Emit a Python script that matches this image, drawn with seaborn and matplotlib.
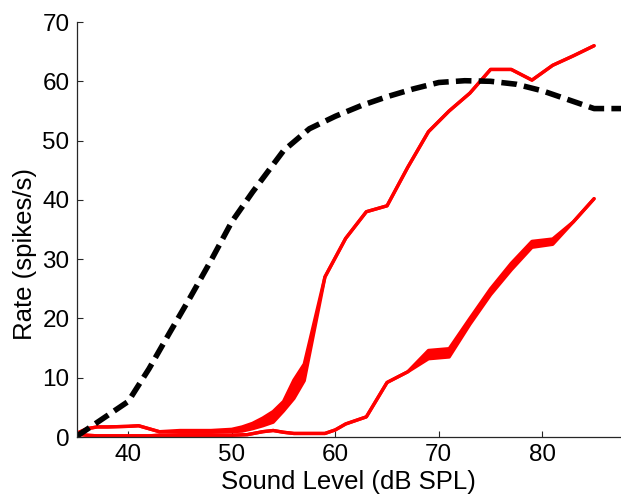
import matplotlib
matplotlib.use("Agg")
import matplotlib.pyplot as plt
import seaborn as sns
import pandas as pd

# ---- data ----
x_black = [35, 40, 42, 44, 46, 48, 50, 52, 55, 57.5, 60, 62.5, 65, 67.5, 70,
           72.5, 75, 77.5, 80, 82.5, 85, 90]
rate_black = [0.1, 6.0, 11.5, 17.6, 23.6, 29.8, 36.3, 41.3, 48.3, 52.0, 54.1,
              55.9, 57.4, 58.7, 59.8, 60.1, 60.0, 59.5, 58.4, 56.9, 55.4, 55.4]

x_a = [35, 36, 37, 38, 40, 41, 42, 43, 45, 48, 50, 51, 52, 53, 54, 55, 56, 57,
       59, 61, 63, 65, 67, 69, 71, 73, 75, 77, 79, 81, 83, 85]
a_lo = [0.6, 1.4, 1.7, 1.7, 1.8, 1.9, 1.4, 0.9, 0.8, 0.8, 0.9, 1.0, 1.4, 1.9,
        2.5, 4.4, 6.5, 9.5, 27.0, 33.5, 38.0, 39.0, 45.5, 51.5, 55.0, 58.0,
        62.0, 62.0, 60.2, 62.7, 64.3, 66.0]
a_hi = [0.6, 1.4, 1.7, 1.7, 1.8, 1.9, 1.4, 0.9, 1.1, 1.1, 1.3, 1.7, 2.3, 3.2,
        4.3, 6.0, 9.6, 12.3, 27.0, 33.5, 38.0, 39.0, 45.5, 51.5, 55.0, 58.0,
        62.0, 62.0, 60.2, 62.7, 64.3, 66.0]

x_b = [35, 36, 37, 40, 42, 43, 45, 50, 51.5, 53, 54, 55, 56, 59, 60, 61, 63,
       65, 67, 69, 71, 73, 75, 77, 79, 81, 83, 85]
b_lo = [0.5, 0.3, 0.2, 0.2, 0.2, 0.3, 0.3, 0.3, 0.4, 0.9, 1.1, 0.8, 0.6, 0.6,
        1.2, 2.2, 3.4, 9.2, 11.0, 13.2, 13.5, 19.0, 24.0, 28.2, 32.0, 32.5,
        36.3, 40.2]
b_hi = [0.5, 0.3, 0.2, 0.2, 0.2, 0.3, 0.3, 0.3, 0.4, 0.9, 1.1, 0.8, 0.6, 0.6,
        1.2, 2.2, 3.4, 9.2, 11.0, 14.6, 14.9, 20.0, 25.0, 29.3, 33.0, 33.4,
        36.3, 40.2]

x_ticks = [40, 50, 60, 70, 80]
y_ticks = [0, 10, 20, 30, 40, 50, 60, 70]

# ---- style ----
sns.set_style("white")
plt.rcParams['font.family'] = ['Liberation Sans', 'DejaVu Sans']

fig = plt.figure(figsize=(6.21, 4.97), dpi=100)
ax = fig.add_axes([0.1232, 0.1207, 0.8768, 0.835])

red = '#ff0000'
lw_red = 2.4

df_a = pd.DataFrame({'x': x_a, 'lo': a_lo, 'hi': a_hi})
df_b = pd.DataFrame({'x': x_b, 'lo': b_lo, 'hi': b_hi})
for df in (df_a, df_b):
    ax.fill_between(df['x'], df['lo'], df['hi'], color=red, linewidth=0)
    sns.lineplot(data=df, x='x', y='lo', ax=ax, color=red, linewidth=lw_red,
                 estimator=None, sort=False)
    sns.lineplot(data=df, x='x', y='hi', ax=ax, color=red, linewidth=lw_red,
                 estimator=None, sort=False)

df_k = pd.DataFrame({'x': x_black, 'rate': rate_black})
sns.lineplot(data=df_k, x='x', y='rate', ax=ax, color='black', linewidth=4.0,
             linestyle=(0, (2.8, 1.3)), estimator=None, sort=False)

ax.set_xlim(35, 87.6)
ax.set_ylim(0, 70)
ax.set_xticks(x_ticks)
ax.set_yticks(y_ticks)
ax.tick_params(bottom=True, left=True, direction='in', length=4.5, width=0.8,
               colors='#262626', labelsize=17.5, labelcolor='black', pad=5)
for s in ('top', 'right'):
    ax.spines[s].set_visible(False)
for s in ('left', 'bottom'):
    ax.spines[s].set_color('#262626')
    ax.spines[s].set_linewidth(0.9)

ax.set_xlabel('Sound Level (dB SPL)', fontsize=18.5, color='black', labelpad=3)
ax.set_ylabel('Rate (spikes/s)', fontsize=18.5, color='black')
ax.yaxis.set_label_coords(-0.073, 0.44)

fig.savefig('out.png', dpi=100)
